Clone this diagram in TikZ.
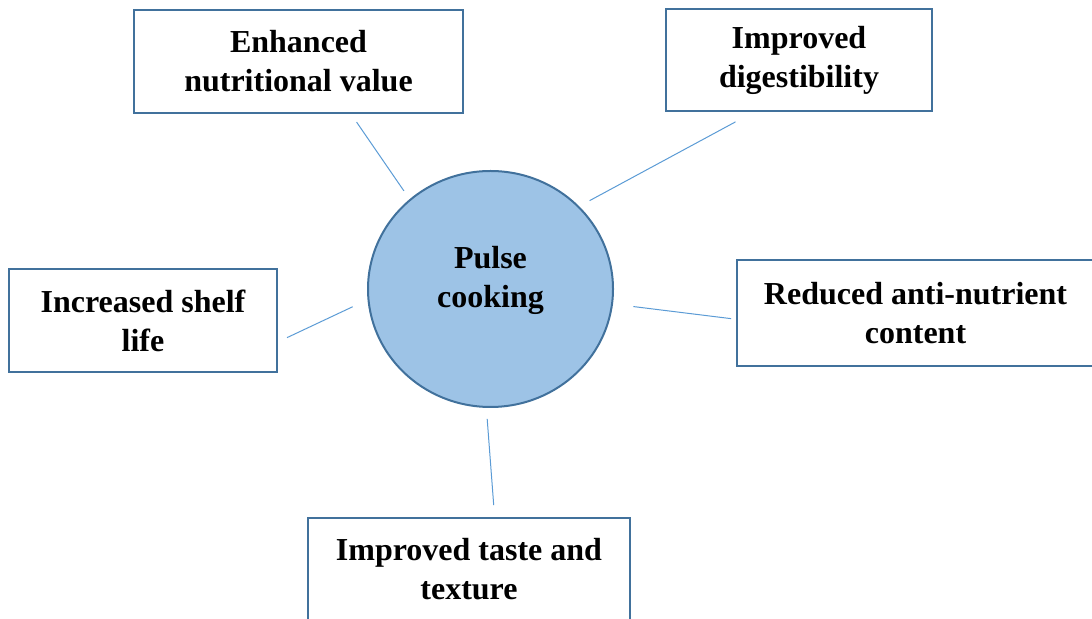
\documentclass[tikz,border=0pt]{standalone}
\usepackage{fontspec}
\setmainfont{Liberation Serif}
\usetikzlibrary{
  calc,
  positioning,
  shapes.geometric
}
\definecolor{boxblue}{HTML}{41719C}
\definecolor{hubfill}{HTML}{9DC3E6}
\definecolor{linkblue}{HTML}{5B9BD5}

\begin{document}
\begin{tikzpicture}[
            x=0.5pt, y=-0.5pt,
            font=\fontsize{16}{19.5}\selectfont\bfseries,
            % Node styles
            effect/.style={rectangle, draw=boxblue, line width=1pt, fill=white, inner sep=0pt, align=center},
            hub/.style={ellipse, draw=boxblue, line width=1pt, fill=hubfill, inner sep=0pt, align=center, minimum width=122.5pt, minimum height=118pt},
            link/.style={draw=linkblue, line width=0.5pt}
        ]

        \useasboundingbox (0,0) rectangle (1092,619);
        \clip (0,0) rectangle (1092,619);

        % Centre
        \node (hub) [hub] at (490.5,289) {Pulse\\cooking\rule[-12pt]{0pt}{0pt}};

        % Effects
        \node (enh) [effect, minimum width=164.5pt, minimum height=51.5pt] at (298.5,61.5) {Enhanced\\nutritional value};
        \node (dig) [effect, minimum width=133pt, minimum height=51pt] at (799,60) {Improved\\digestibility};
        \node (shelf) [effect, minimum width=134pt, minimum height=51.5pt] at (143,320.5) {Increased shelf\\life};
        \node (anti) [effect, minimum width=178.5pt, minimum height=53pt] at (915.5,313) {Reduced anti-nutrient\\content};
        \node (taste) [effect, minimum width=161pt, minimum height=51.5pt] at (469,569.5) {Improved taste and\\texture};

        % Links
        \draw [link, shorten <=4.9pt, shorten >=5pt] (enh.-45) -- (hub.132);
        \draw [link, shorten <=10.4pt, shorten >=5.9pt] (dig.-131) -- (hub.43);
        \draw [link, shorten <=5pt, shorten >=8.2pt] (shelf.-9) -- (hub.185);
        \draw [link, shorten <=2.5pt, shorten >=10.3pt] (anti.182.5) -- (hub.-7);
        \draw [link, shorten <=6pt, shorten >=5.5pt] (taste.64.4) -- (hub.268.5);

    \end{tikzpicture}
\end{document}
